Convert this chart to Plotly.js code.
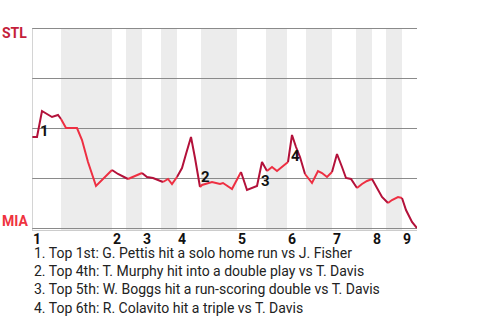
<!DOCTYPE html>
<html>
<head>
<meta charset="utf-8">
<script src="https://cdn.plot.ly/plotly-3.0.1.min.js"></script>
<style>html,body{margin:0;padding:0;background:#fff;}#chart{width:480px;height:320px;}</style>
</head>
<body>
<div id="chart"></div>
<script>
// Play index (plate appearance order) and STL win probability after each play
const playIndex = [0, 1, 2, 3, 4, 5.2, 5.8, 6.8, 9, 10, 11.2, 12.8, 16, 17.2, 19.2, 20.6, 22, 23, 24.2, 26.2, 27.2, 28, 29, 30, 30.8, 31.8, 32.6, 33.6, 34, 36, 37.6, 38.2, 40, 41.8, 43, 45, 46, 47, 48, 49, 51.2, 52, 52.8, 53.6, 54.6, 56, 57.2, 58, 59, 60, 61, 62, 62.8, 63.8, 65, 66, 67, 68, 69, 70, 71.2, 72, 73.2, 74, 74.8, 76, 77];
const stlWinProb = [0.455, 0.455, 0.585, 0.57, 0.555, 0.565, 0.545, 0.50, 0.50, 0.44, 0.33, 0.21, 0.29, 0.27, 0.245, 0.26, 0.275, 0.255, 0.25, 0.23, 0.245, 0.22, 0.255, 0.30, 0.37, 0.455, 0.35, 0.205, 0.215, 0.23, 0.22, 0.225, 0.195, 0.28, 0.19, 0.21, 0.33, 0.285, 0.305, 0.285, 0.33, 0.465, 0.405, 0.355, 0.27, 0.225, 0.285, 0.275, 0.255, 0.28, 0.37, 0.305, 0.25, 0.245, 0.20, 0.22, 0.235, 0.245, 0.20, 0.155, 0.125, 0.14, 0.155, 0.15, 0.09, 0.03, 0.0];
// Innings: start of top half and start of bottom half (play index)
const inningLabels = ['1', '2', '3', '4', '5', '6', '7', '8', '9'];
const topStarts = [0, 16, 22, 29, 41, 51, 60, 68, 74];
const bottomStarts = [5.8, 18.8, 25.8, 33.8, 46.8, 54.8, 64.8, 70.8];
const gameEnd = 77;
// Key events
const eventNumbers = ['1', '2', '3', '4'];
const eventTexts = [
  '1. Top 1st: G. Pettis hit a solo home run vs J. Fisher',
  '2. Top 4th: T. Murphy hit into a double play vs T. Davis',
  '3. Top 5th: W. Boggs hit a run-scoring double vs T. Davis',
  '4. Top 6th: R. Colavito hit a triple vs T. Davis'
];
const eventLabelX = [2.4, 34.6, 46.7, 52.6];
const eventLabelP = [0.483, 0.253, 0.237, 0.362];

const DARK = '#b3113a';
const BRIGHT = '#ee2f42';

function bandEnd(k) { return k + 1 < topStarts.length ? topStarts[k + 1] : gameEnd; }
function inBottom(x) {
  for (let k = 0; k < bottomStarts.length; k++) {
    if (x >= bottomStarts[k] && x <= bandEnd(k)) return true;
  }
  return false;
}

// build colored line runs
const traces = [];
let cur = null;
for (let i = 0; i < playIndex.length - 1; i++) {
  const mid = (playIndex[i] + playIndex[i + 1]) / 2;
  const col = inBottom(mid) ? BRIGHT : DARK;
  if (!cur || cur.line.color !== col) {
    cur = {type: 'scatter', mode: 'lines', x: [playIndex[i]], y: [stlWinProb[i]],
           line: {color: col, width: 2}, hoverinfo: 'skip', showlegend: false};
    traces.push(cur);
  }
  cur.x.push(playIndex[i + 1]);
  cur.y.push(stlWinProb[i + 1]);
}

const shapes = bottomStarts.map((b, k) => ({
  type: 'rect', xref: 'x', yref: 'y', x0: b, x1: bandEnd(k), y0: -0.01, y1: 1.0,
  fillcolor: '#ececec', line: {width: 0}, layer: 'below'
}));

const annotations = [];
eventNumbers.forEach((n, k) => {
  annotations.push({x: eventLabelX[k], y: eventLabelP[k], xref: 'x', yref: 'y', text: '<b>' + n + '</b>',
    showarrow: false, font: {family: 'Roboto', size: 15, color: '#111'}});
});
// inning labels, left-aligned at the start of each inning
inningLabels.forEach((lab, k) => {
  annotations.push({x: topStarts[k], y: 0, xref: 'x', yref: 'paper', xanchor: 'left', yanchor: 'top',
    xshift: -1, yshift: 1, text: '<b>' + lab + '</b>', showarrow: false,
    font: {family: 'Roboto', size: 14, color: '#111'}});
});
annotations.push({xref: 'paper', yref: 'y', x: 0, y: 1, xanchor: 'right', yanchor: 'top', xshift: -3, yshift: 5,
  text: '<b>STL</b>', showarrow: false, font: {family: 'Roboto', size: 14, color: '#c41e3a'}});
annotations.push({xref: 'paper', yref: 'y', x: 0, y: 0, xanchor: 'right', yanchor: 'bottom', xshift: -2, yshift: -3,
  text: '<b>MIA</b>', showarrow: false, font: {family: 'Roboto', size: 14, color: '#ef3340'}});
annotations.push({xref: 'paper', yref: 'paper', x: 0, y: -0.065, xanchor: 'left', yanchor: 'top', align: 'left',
  text: eventTexts.join('<br>'), showarrow: false, font: {family: 'Roboto', size: 14, color: '#222'}});

const layout = {
  width: 480, height: 320,
  margin: {l: 32, r: 63, t: 26, b: 90, pad: 0},
  paper_bgcolor: '#fff', plot_bgcolor: 'rgba(0,0,0,0)',
  showlegend: false,
  xaxis: {range: [0, gameEnd], showticklabels: false, ticks: '', showgrid: false, zeroline: false,
    showline: true, linecolor: '#cccccc', linewidth: 1, fixedrange: true},
  yaxis: {range: [-0.01, 1.01], tickvals: [0, 0.25, 0.5, 0.75, 1], showticklabels: false, ticks: '',
    showgrid: true, gridcolor: '#8a8a8a', gridwidth: 1, zeroline: false,
    showline: false, fixedrange: true},
  shapes: shapes.concat([{type: 'line', xref: 'x', yref: 'y', x0: 0, x1: 0, y0: -0.01, y1: 1.0,
    line: {color: '#aaaaaa', width: 1}, layer: 'above'}]),
  annotations: annotations
};

Plotly.newPlot('chart', traces, layout, {staticPlot: true, displayModeBar: false});
</script>
</body>
</html>
